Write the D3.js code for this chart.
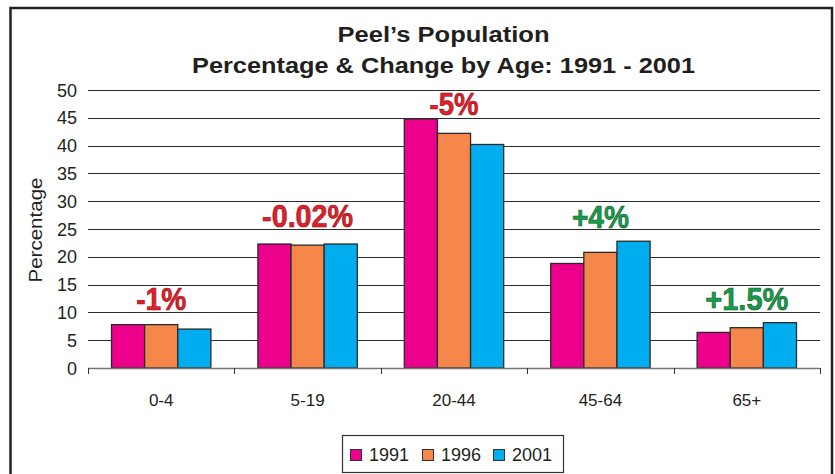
<!DOCTYPE html>
<html>
<head>
<meta charset="utf-8">
<script src="https://cdn.jsdelivr.net/npm/d3@7"></script>
<style>
  body { margin: 0; background: #fff; }
  text { font-family: "Liberation Sans", Arial, sans-serif; }
</style>
</head>
<body>
<div class="chart"></div>
<script>
// data
var ageGroups = ["0-4", "5-19", "20-44", "45-64", "65+"];
var years = ["1991", "1996", "2001"];
var pct1991 = [7.8, 22.3, 44.8, 18.8, 6.4];
var pct1996 = [7.8, 22.1, 42.2, 20.8, 7.25];
var pct2001 = [7.0, 22.3, 40.2, 22.8, 8.15];
var changeLabels = ["-1%", "-0.02%", "-5%", "+4%", "+1.5%"];
var changeAt = [12.5, 27.5, 47.5, 27.3, 12.5];   // label centre, in percent
var yTicks = [0, 5, 10, 15, 20, 25, 30, 35, 40, 45, 50];

var colors = {"1991": "#ec008c", "1996": "#f5874b", "2001": "#00aeef"};
var series = {"1991": pct1991, "1996": pct1996, "2001": pct2001};

// note: "top" is taken by window.top, so plot edges get their own names
var width = 835, height = 474;
var plotLeft = 88, plotRight = 820, plotTop = 90, plotBottom = 368;

var svg = d3.select("div.chart").append("svg")
    .attr("width", width)
    .attr("height", height);

// outer frame (bottom edge runs off the picture)
svg.append("rect")
    .attr("x", 10.5).attr("y", 8)
    .attr("width", 821.5).attr("height", 480)
    .attr("fill", "none")
    .attr("stroke", "#222")
    .attr("stroke-width", 2.5);

var x = d3.scaleBand().domain(ageGroups).range([plotLeft, plotRight]);
var y = d3.scaleLinear().domain([0, 50]).range([plotBottom, plotTop]);
var groupPad = 23.5;
var x1 = d3.scaleBand().domain(years).range([groupPad, x.bandwidth() - groupPad]);

// title
var titleX = 443.5;
svg.append("text")
    .attr("x", titleX).attr("y", 42)
    .attr("text-anchor", "middle")
    .attr("font-size", 22).attr("font-weight", "bold").attr("fill", "#231f20")
    .attr("textLength", 212).attr("lengthAdjust", "spacingAndGlyphs")
    .text("Peel\u2019s Population");
svg.append("text")
    .attr("x", titleX).attr("y", 73)
    .attr("text-anchor", "middle")
    .attr("font-size", 22).attr("font-weight", "bold").attr("fill", "#231f20")
    .attr("textLength", 503).attr("lengthAdjust", "spacingAndGlyphs")
    .text("Percentage & Change by Age: 1991 - 2001");

// gridlines
svg.append("g").selectAll("line.grid")
    .data(yTicks.filter(function(d) { return d > 0; }))
    .enter().append("line")
    .attr("class", "grid")
    .attr("x1", plotLeft).attr("x2", plotRight)
    .attr("y1", function(d) { return Math.round(y(d)) + 0.5; })
    .attr("y2", function(d) { return Math.round(y(d)) + 0.5; })
    .attr("stroke", "#2b2b2b")
    .attr("stroke-width", 1.2);

// y axis labels
svg.append("g").selectAll("text")
    .data(yTicks)
    .enter().append("text")
    .attr("x", 77)
    .attr("y", function(d) { return y(d) + 6.5; })
    .attr("text-anchor", "end")
    .attr("font-size", 18)
    .attr("fill", "#231f20")
    .text(function(d) { return d; });

svg.append("text")
    .attr("transform", "translate(42,230) rotate(-90)")
    .attr("text-anchor", "middle")
    .attr("font-size", 18)
    .attr("fill", "#231f20")
    .attr("textLength", 105).attr("lengthAdjust", "spacingAndGlyphs")
    .text("Percentage");

// bars
var groups = svg.append("g").selectAll("g.group")
    .data(ageGroups)
    .enter().append("g")
    .attr("class", "group")
    .attr("transform", function(d) { return "translate(" + x(d) + ",0)"; });

groups.selectAll("rect")
    .data(function(d, i) {
        return years.map(function(yr) { return {"year": yr, "value": series[yr][i]}; });
    })
    .enter().append("rect")
    .attr("x", function(d) { return x1(d.year); })
    .attr("y", function(d) { return y(d.value); })
    .attr("width", x1.bandwidth())
    .attr("height", function(d) { return y(0) - y(d.value); })
    .attr("fill", function(d) { return colors[d.year]; })
    .attr("stroke", "#2a2a2a")
    .attr("stroke-width", 1.3);

// x axis
svg.append("line")
    .attr("x1", plotLeft).attr("x2", plotRight)
    .attr("y1", plotBottom + 0.5).attr("y2", plotBottom + 0.5)
    .attr("stroke", "#777").attr("stroke-width", 1.5);

var tickXs = ageGroups.map(function(d) { return x(d); }).concat([plotRight]);
svg.append("g").selectAll("line")
    .data(tickXs)
    .enter().append("line")
    .attr("x1", function(d) { return Math.round(d) + 0.5; })
    .attr("x2", function(d) { return Math.round(d) + 0.5; })
    .attr("y1", plotBottom).attr("y2", plotBottom + 6)
    .attr("stroke", "#333").attr("stroke-width", 1);

svg.append("g").selectAll("text")
    .data(ageGroups)
    .enter().append("text")
    .attr("x", function(d) { return x(d) + x.bandwidth() / 2; })
    .attr("y", 406)
    .attr("text-anchor", "middle")
    .attr("font-size", 17)
    .attr("fill", "#231f20")
    .text(function(d) { return d; });

// change labels
var labelWidths = [50, 91, 49, 57, 83];
svg.append("g").selectAll("text")
    .data(changeLabels)
    .enter().append("text")
    .attr("x", function(d, i) { return x(ageGroups[i]) + x.bandwidth() / 2; })
    .attr("y", function(d, i) { return y(changeAt[i]) + 11.5; })
    .attr("text-anchor", "middle")
    .attr("font-size", 31)
    .attr("font-weight", "bold")
    .attr("fill", function(d) { return d.charAt(0) === "+" ? "#1a9b4b" : "#e0202a"; })
    .attr("stroke", function(d) { return d.charAt(0) === "+" ? "#0c5a2a" : "#8a1216"; })
    .attr("stroke-width", 0.6)
    .attr("textLength", function(d, i) { return labelWidths[i]; })
    .attr("lengthAdjust", "spacingAndGlyphs")
    .text(function(d) { return d; });

// legend
var legend = svg.append("g");
legend.append("rect")
    .attr("x", 342.5).attr("y", 435.5)
    .attr("width", 221).attr("height", 37)
    .attr("fill", "#fff")
    .attr("stroke", "#333").attr("stroke-width", 1.2);

var legendX = [350, 422, 493];
var item = legend.selectAll("g.item")
    .data(years)
    .enter().append("g")
    .attr("class", "item")
    .attr("transform", function(d, i) { return "translate(" + legendX[i] + ",0)"; });
item.append("rect")
    .attr("x", 0.5).attr("y", 449.5)
    .attr("width", 11).attr("height", 11)
    .attr("fill", function(d) { return colors[d]; })
    .attr("stroke", "#333").attr("stroke-width", 1);
item.append("text")
    .attr("x", 19).attr("y", 461)
    .attr("font-size", 18)
    .attr("fill", "#231f20")
    .text(function(d) { return d; });
</script>
</body>
</html>
